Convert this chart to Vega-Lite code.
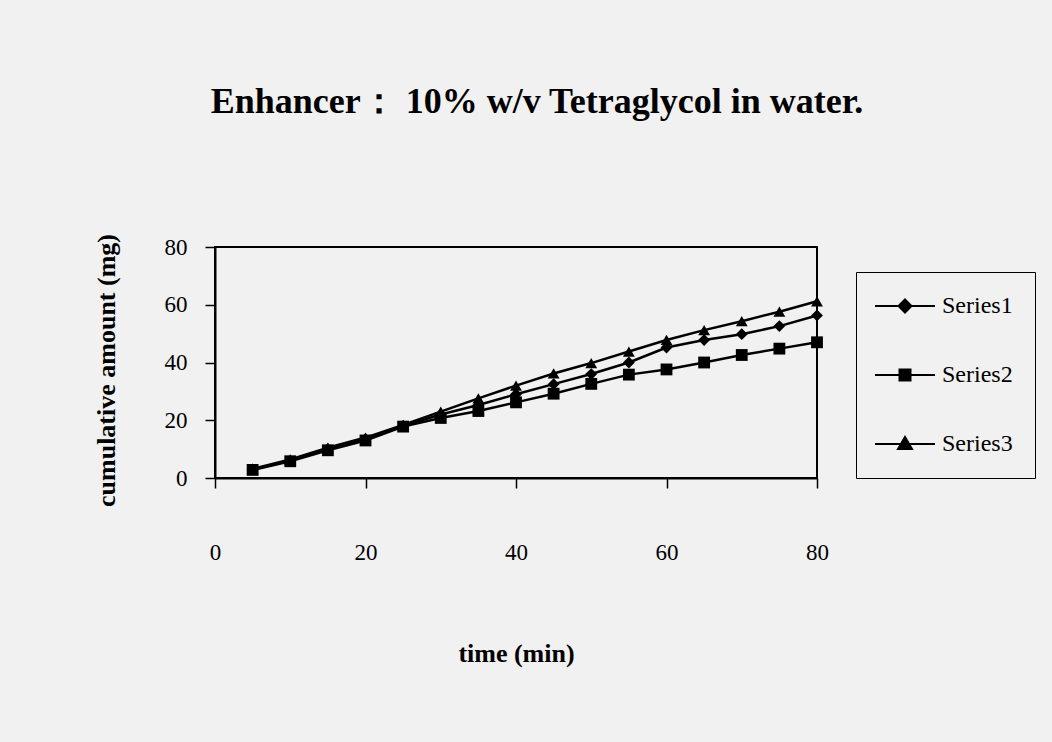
{
  "$schema": "https://vega.github.io/schema/vega-lite/v6.json",
  "autosize": "none",
  "width": 602,
  "height": 231,
  "padding": {"left": 215, "top": 247, "right": 235, "bottom": 264},
  "background": "#f1f1f1",
  "title": {
    "text": "Enhancer： 10% w/v Tetraglycol in water.",
    "font": "Liberation Serif",
    "fontSize": 36,
    "fontWeight": "bold",
    "color": "black",
    "anchor": "middle",
    "frame": "group",
    "baseline": "alphabetic",
    "offset": 85,
    "dx": 21
  },
  "config": {
    "view": {"stroke": "black", "strokeWidth": 2, "fill": "#f1f1f1"},
    "axis": {
      "grid": false,
      "domainColor": "black",
      "domainWidth": 2,
      "tickColor": "black",
      "tickWidth": 1.5,
      "tickSize": 10,
      "labelFont": "Liberation Serif",
      "labelFontSize": 23,
      "labelColor": "black",
      "labelFlush": false,
      "titleFont": "Liberation Serif",
      "titleFontSize": 26,
      "titleFontWeight": "bold",
      "titleColor": "black"
    }
  },
  "data": {
    "values": [
      {"time": 5, "series": "Series1", "amount": 3.0},
      {"time": 10, "series": "Series1", "amount": 6.1},
      {"time": 15, "series": "Series1", "amount": 10.0},
      {"time": 20, "series": "Series1", "amount": 13.5},
      {"time": 25, "series": "Series1", "amount": 18.0},
      {"time": 30, "series": "Series1", "amount": 22.0},
      {"time": 35, "series": "Series1", "amount": 25.3},
      {"time": 40, "series": "Series1", "amount": 29.0},
      {"time": 45, "series": "Series1", "amount": 32.5},
      {"time": 50, "series": "Series1", "amount": 36.0},
      {"time": 55, "series": "Series1", "amount": 40.0},
      {"time": 60, "series": "Series1", "amount": 45.2},
      {"time": 65, "series": "Series1", "amount": 47.8},
      {"time": 70, "series": "Series1", "amount": 49.8},
      {"time": 75, "series": "Series1", "amount": 52.6},
      {"time": 80, "series": "Series1", "amount": 56.3},
      {"time": 5, "series": "Series2", "amount": 2.8},
      {"time": 10, "series": "Series2", "amount": 5.8},
      {"time": 15, "series": "Series2", "amount": 9.6},
      {"time": 20, "series": "Series2", "amount": 13.0},
      {"time": 25, "series": "Series2", "amount": 17.8},
      {"time": 30, "series": "Series2", "amount": 20.8},
      {"time": 35, "series": "Series2", "amount": 23.2},
      {"time": 40, "series": "Series2", "amount": 26.2},
      {"time": 45, "series": "Series2", "amount": 29.2},
      {"time": 50, "series": "Series2", "amount": 32.6},
      {"time": 55, "series": "Series2", "amount": 35.8},
      {"time": 60, "series": "Series2", "amount": 37.6},
      {"time": 65, "series": "Series2", "amount": 40.0},
      {"time": 70, "series": "Series2", "amount": 42.6},
      {"time": 75, "series": "Series2", "amount": 44.8},
      {"time": 80, "series": "Series2", "amount": 47.0},
      {"time": 5, "series": "Series3", "amount": 3.2},
      {"time": 10, "series": "Series3", "amount": 6.4},
      {"time": 15, "series": "Series3", "amount": 10.5},
      {"time": 20, "series": "Series3", "amount": 14.0},
      {"time": 25, "series": "Series3", "amount": 18.4},
      {"time": 30, "series": "Series3", "amount": 23.0},
      {"time": 35, "series": "Series3", "amount": 27.6},
      {"time": 40, "series": "Series3", "amount": 32.0},
      {"time": 45, "series": "Series3", "amount": 36.2},
      {"time": 50, "series": "Series3", "amount": 39.8},
      {"time": 55, "series": "Series3", "amount": 43.8},
      {"time": 60, "series": "Series3", "amount": 47.8},
      {"time": 65, "series": "Series3", "amount": 51.2},
      {"time": 70, "series": "Series3", "amount": 54.3},
      {"time": 75, "series": "Series3", "amount": 57.6},
      {"time": 80, "series": "Series3", "amount": 61.2}
    ]
  },
  "encoding": {
    "x": {
      "field": "time",
      "type": "quantitative",
      "scale": {"domain": [0, 80], "nice": false},
      "axis": {
        "title": "time (min)",
        "values": [0, 20, 40, 60, 80],
        "labelPadding": 53,
        "titleY": 175,
        "titleBaseline": "middle"
      }
    },
    "y": {
      "field": "amount",
      "type": "quantitative",
      "scale": {"domain": [0, 80], "nice": false},
      "axis": {
        "title": "cumulative amount (mg)",
        "values": [0, 20, 40, 60, 80],
        "labelPadding": 18,
        "titleX": -109,
        "titleY": 123,
        "titleAngle": 270,
        "titleAlign": "center",
        "titleBaseline": "middle"
      }
    }
  },
  "layer": [
    {
      "mark": {"type": "line", "color": "black", "strokeWidth": 2.5},
      "encoding": {"detail": {"field": "series"}}
    },
    {
      "mark": {"type": "point", "filled": true, "color": "black", "opacity": 1, "size": 140},
      "encoding": {
        "shape": {
          "field": "series",
          "type": "nominal",
          "scale": {"domain": ["Series1", "Series2", "Series3"], "range": ["diamond", "square", "triangle-up"]},
          "legend": null
        }
      }
    },
    {
      "mark": {"type": "point", "filled": false, "color": "black", "strokeWidth": 2, "opacity": 0, "size": 100},
      "encoding": {
        "shape": {
          "field": "series",
          "type": "nominal",
          "scale": {"domain": ["Series1", "Series2", "Series3"], "range": [
            "M-3,0L9,0M3,-1.3L4.3,0L3,1.3L1.7,0ZM3,-0.9L3.9,0L3,0.9L2.1,0ZM3,-0.5L3.5,0L3,0.5L2.5,0ZM3,-0.15L3.15,0L3,0.15L2.85,0Z",
            "M-3,0L9,0M1.9,-1.1L4.1,-1.1L4.1,1.1L1.9,1.1ZM2.3,-0.7L3.7,-0.7L3.7,0.7L2.3,0.7ZM2.7,-0.3L3.3,-0.3L3.3,0.3L2.7,0.3Z",
            "M-3,0L9,0M3,-1.4L4.4,1L1.6,1ZM3,-0.9L3.9,0.65L2.1,0.65ZM3,-0.4L3.4,0.3L2.6,0.3Z"
          ]},
          "legend": {
            "title": null,
            "orient": "none",
            "legendX": 641,
            "legendY": 25,
            "padding": 22,
            "strokeColor": "black",
            "fillColor": "#f1f1f1",
            "symbolSize": 100,
            "symbolStrokeColor": "black",
            "symbolStrokeWidth": 2,
            "symbolOpacity": 1,
            "labelFont": "Liberation Serif",
            "labelFontSize": 24,
            "labelColor": "black",
            "labelOffset": 40,
            "rowPadding": 45,
            "encode": {
              "symbols": {
                "fill": {"value": "black"},
                "stroke": {"value": "black"},
                "strokeWidth": {"value": 2},
                "opacity": {"value": 1}
              }
            }
          }
        }
      }
    }
  ],
  "resolve": {"scale": {"shape": "independent"}, "legend": {"shape": "independent"}}
}
